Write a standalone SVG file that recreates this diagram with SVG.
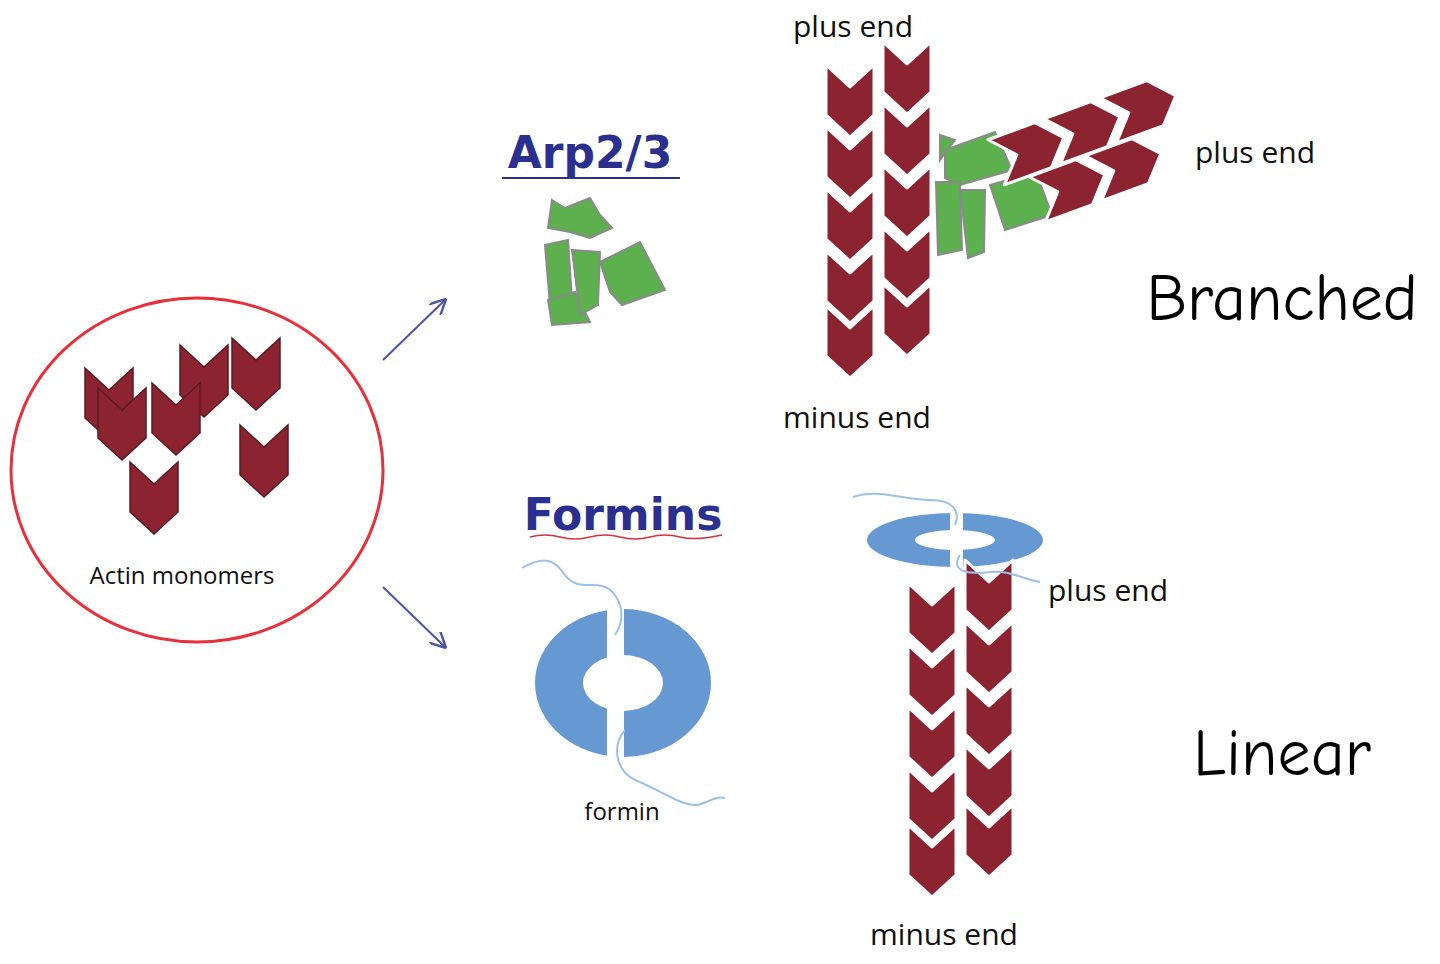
<svg xmlns="http://www.w3.org/2000/svg" xmlns:xlink="http://www.w3.org/1999/xlink" width="1440" height="964" viewBox="0 0 1440 964">
<style>
.ch{fill:#8b2331;stroke:#fff;stroke-width:3;stroke-linejoin:round}
.gr{fill:#5cb04e;stroke:#8a8a8a;stroke-width:2}
.lbl{font-family:"Open Sans","Liberation Sans",sans-serif;fill:#111}
.ttl{font-family:"DejaVu Sans",sans-serif;font-weight:bold;fill:#2b2f8f}
.big{font-family:"Comic Neue","DejaVu Sans",sans-serif;fill:#000}
.ring{fill:#6699d2;fill-rule:evenodd}
.wire{fill:none;stroke:#9cc0e8;stroke-width:2}
</style>
<defs>
<path id="c" class="ch" d="M0,0 L24,22 L48,0 L48,50 L24,72 L0,50 Z"/>
<path id="m" fill="#8b2331" stroke="#5a1a22" stroke-width="1.5" d="M0,0 L24,22 L48,0 L48,50 L24,72 L0,50 Z"/>
<marker id="ah" viewBox="0 0 10 10" refX="9" refY="5" markerWidth="8" markerHeight="8" orient="auto"><path d="M0,0 L10,5 L0,10" fill="none" stroke="#4a55a8" stroke-width="1.5"/></marker>
</defs>
<rect width="1440" height="964" fill="#fff"/>
<g id="monomers">
<ellipse cx="197" cy="470" rx="186" ry="172" fill="none" stroke="#e8303a" stroke-width="3"/>
<use href="#m" x="85" y="368"/><use href="#m" x="98" y="388"/><use href="#m" x="180" y="345"/><use href="#m" x="152" y="383"/><use href="#m" x="232" y="338"/><use href="#m" x="240" y="425"/><use href="#m" x="130" y="462"/>
<text class="lbl" x="182" y="584" font-size="24" text-anchor="middle">Actin monomers</text>
</g>
<g id="connectors" stroke="#4a55a8" stroke-width="2" marker-end="url(#ah)">
<line x1="383" y1="360" x2="445" y2="300"/>
<line x1="383" y1="587" x2="445" y2="647"/>
</g>
<g id="arp23">
<text class="ttl" x="590" y="168" font-size="44" text-anchor="middle">Arp2/3</text>
<line x1="502" y1="178" x2="680" y2="178" stroke="#2b2f8f" stroke-width="2"/>
<polygon class="gr" points="552,200 565,208 590,198 600,215 612,228 590,238 570,232 548,228"/>
<polygon class="gr" points="545,245 568,240 572,300 550,305"/>
<polygon class="gr" points="548,300 575,292 590,322 552,325"/>
<polygon class="gr" points="572,250 600,252 598,305 580,315"/>
<polygon class="gr" points="600,262 640,242 665,290 622,305 610,292"/>
</g>
<g id="branched">
<text class="lbl" x="853" y="37" font-size="30" text-anchor="middle">plus end</text>
<use href="#c" x="826" y="65"/><use href="#c" x="826" y="127"/><use href="#c" x="826" y="189"/><use href="#c" x="826" y="251"/><use href="#c" x="826" y="306"/>
<use href="#c" x="883" y="42"/><use href="#c" x="883" y="104"/><use href="#c" x="883" y="166"/><use href="#c" x="883" y="228"/><use href="#c" x="883" y="284"/>
<polygon class="gr" points="940,135 955,140 940,160"/>
<polygon class="gr" points="945,150 995,132 1012,170 960,185 945,178"/>
<polygon class="gr" points="936,182 960,182 962,250 938,255"/>
<polygon class="gr" points="960,190 985,190 984,252 968,258"/>
<polygon class="gr" points="990,185 1036,172 1052,215 1005,230"/>
<g transform="translate(1030,150) rotate(-110)"><use href="#c" x="-24" y="-36"/></g>
<g transform="translate(1086,129) rotate(-110)"><use href="#c" x="-24" y="-36"/></g>
<g transform="translate(1142,108) rotate(-110)"><use href="#c" x="-24" y="-36"/></g>
<g transform="translate(1071,187) rotate(-110)"><use href="#c" x="-24" y="-36"/></g>
<g transform="translate(1127,166) rotate(-110)"><use href="#c" x="-24" y="-36"/></g>
<text class="lbl" x="1255" y="163" font-size="30" text-anchor="middle">plus end</text>
<text class="lbl" x="857" y="428" font-size="30" text-anchor="middle">minus end</text>
<text class="big" x="1282" y="320" font-size="66" text-anchor="middle">Branched</text>
</g>
<g id="formins">
<text class="ttl" x="623" y="530" font-size="44" text-anchor="middle">Formins</text>
<path d="M530,537 Q545,533 560,537 T590,537 T620,537 T650,537 T680,537 T722,535" fill="none" stroke="#d83040" stroke-width="1.5"/>
<path class="ring" d="M535,683 a88,74 0 1,0 176,0 a88,74 0 1,0 -176,0 Z M583,683 a40,28 0 1,0 80,0 a40,28 0 1,0 -80,0 Z"/>
<rect x="607" y="600" width="17" height="170" fill="#fff"/>
<path class="wire" d="M522,568 C545,555 555,560 565,575 C580,595 600,575 615,595 C625,610 622,625 615,635"/>
<path class="wire" d="M625,730 C612,745 615,770 635,780 C660,790 680,805 695,805 C705,805 715,795 725,798"/>
<text class="lbl" x="622" y="820" font-size="24" text-anchor="middle">formin</text>
</g>
<g id="linear">
<path class="ring" d="M867,540 a88,27 0 1,0 176,0 a88,27 0 1,0 -176,0 Z M915,540 a40,10 0 1,0 80,0 a40,10 0 1,0 -80,0 Z"/>
<rect x="950" y="510" width="13" height="60" fill="#fff"/>
<path class="wire" d="M853,497 C880,488 900,500 930,500 C955,500 960,512 955,525"/>
<use href="#c" x="908" y="583"/><use href="#c" x="908" y="645"/><use href="#c" x="908" y="707"/><use href="#c" x="908" y="769"/><use href="#c" x="908" y="825"/>
<use href="#c" x="965" y="560"/><use href="#c" x="965" y="622"/><use href="#c" x="965" y="684"/><use href="#c" x="965" y="746"/><use href="#c" x="965" y="805"/>
<path class="wire" d="M960,555 C950,570 965,575 990,572 C1010,570 1025,580 1040,582"/>
<text class="lbl" x="1108" y="601" font-size="30" text-anchor="middle">plus end</text>
<text class="lbl" x="944" y="945" font-size="30" text-anchor="middle">minus end</text>
<text class="big" x="1282" y="775" font-size="66" text-anchor="middle">Linear</text>
</g>
</svg>
